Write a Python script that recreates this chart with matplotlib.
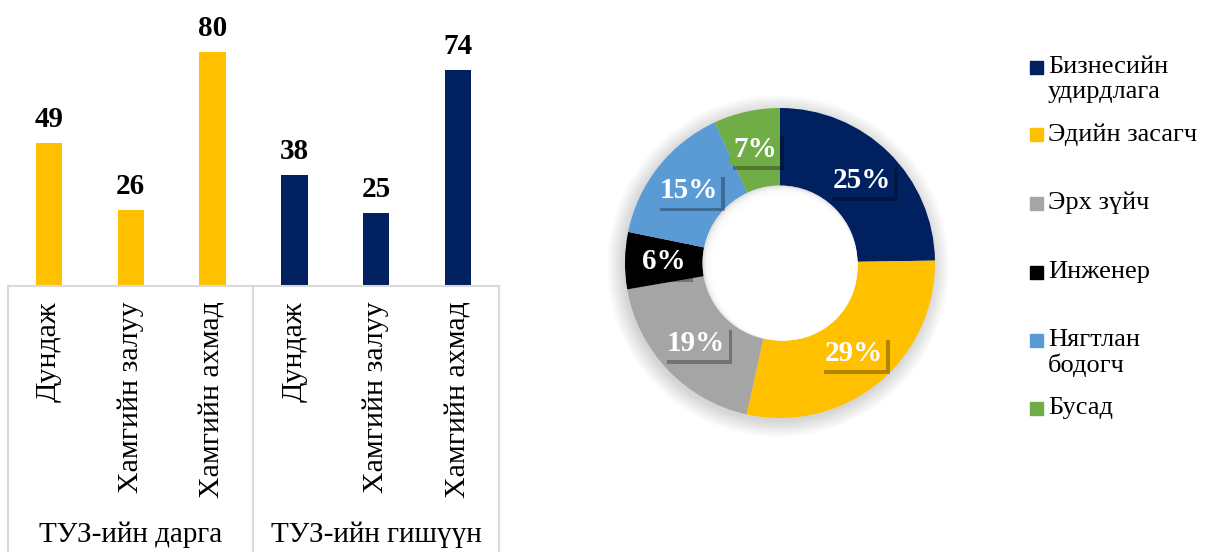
import matplotlib
matplotlib.use("Agg")
import matplotlib.pyplot as plt
import matplotlib.patheffects as pe
from matplotlib.patches import Rectangle, Circle
import numpy as np

plt.rcParams['font.family'] = ['Liberation Serif', 'DejaVu Serif']

# ---- data ----
bar_labels = ["Дундаж", "Хамгийн залуу", "Хамгийн ахмад",
              "Дундаж", "Хамгийн залуу", "Хамгийн ахмад"]
bar_values = [49, 26, 80, 38, 25, 74]
group_labels = ["ТУЗ-ийн дарга", "ТУЗ-ийн гишүүн"]
group_colors = ["#FFC000", "#002060"]

pie_labels = ["Бизнесийн\nудирдлага", "Эдийн засагч", "Эрх зүйч",
              "Инженер", "Нягтлан\nбодогч", "Бусад"]
pie_values = [25, 29, 19, 6, 15, 7]
pie_colors = ["#002060", "#FFC000", "#A5A5A5", "#000000", "#5B9BD5", "#70AD47"]

W, H = 1208, 552
fig = plt.figure(figsize=(W / 100, H / 100), dpi=100)

# ---- bar chart ----
base_y = 286
ax = fig.add_axes([8 / W, 1 - base_y / H, (499 - 8) / W, base_y / H])
x = np.arange(len(bar_values))
colors = [group_colors[0]] * 3 + [group_colors[1]] * 3
bars = ax.bar(x, bar_values, width=0.32, color=colors)
ax.set_xlim(-0.5, len(bar_values) - 0.5)
ax.set_ylim(0, base_y / 2.925)
for b, v in zip(bars, bar_values):
    ax.annotate(str(v), (b.get_x() + b.get_width() / 2, v), xytext=(0, 7),
                textcoords='offset points', ha='center', va='bottom',
                fontsize=21, fontweight='bold')
for s in ['top', 'left', 'right']:
    ax.spines[s].set_visible(False)
ax.spines['bottom'].set_color('#D9D9D9')
ax.spines['bottom'].set_linewidth(1.5)
ax.set_yticks([])
ax.set_xticks(x)
ax.set_xticklabels(bar_labels, rotation=90, fontsize=21.5, va='top', ha='center')
ax.tick_params(axis='x', length=0, pad=11)
bot = -(H - base_y) / base_y
for xb in [-0.5, 2.5, 5.5]:
    ax.plot([xb, xb], [0, bot], transform=ax.get_xaxis_transform(),
            color='#D9D9D9', lw=1.5, clip_on=False)
for gi, gl in enumerate(group_labels):
    ax.text(gi * 3 + 1, -(535 - base_y) / base_y, gl, transform=ax.get_xaxis_transform(),
            ha='center', va='center', fontsize=21)

# ---- donut ----
cx, cy, R = 780, 263, 155
half = 175
ax2 = fig.add_axes([(cx - half) / W, 1 - (cy + half) / H, 2 * half / W, 2 * half / H])
# soft shadow
for k in range(14):
    ax2.add_patch(Circle((-0.012, -0.02), 1.0 + k * 0.008, color='black',
                         alpha=0.012, lw=0, zorder=0))
wedges, _ = ax2.pie(pie_values, colors=pie_colors, startangle=90, counterclock=False,
                    radius=1, wedgeprops=dict(width=0.5, linewidth=0))
for k in range(6):
    ax2.add_patch(Circle((0.006 * k, -0.006 * k), 0.5 - k * 0.006, color='white' if k else '#f2f2f2',
                         alpha=1.0 if k == 5 else 0.5, lw=0, zorder=5))
lim = half / R
ax2.set_xlim(-lim, lim)
ax2.set_ylim(-lim, lim)
ax2.set_aspect('equal')
ax2.axis('off')
total = sum(pie_values)
start = 90.0
for v, c in zip(pie_values, pie_colors):
    span = v / total * 360
    mid = np.deg2rad(start - span / 2)
    start -= span
    px, py = 0.75 * np.cos(mid), 0.75 * np.sin(mid)
    t = ax2.text(px, py, f"{v}%", ha='center', va='center', fontsize=21,
                 fontweight='bold', color='white', zorder=7,
                 bbox=dict(boxstyle='square,pad=0.12', fc=c, ec='none'))
    t.get_bbox_patch().set_path_effects([
        pe.SimplePatchShadow(offset=(2.5, -2.5), shadow_rgbFace='black', alpha=0.3),
        pe.Normal()])

# ---- legend ----
leg_tops = [51, 118, 187, 256, 324, 392]
for lab, c, t in zip(pie_labels, pie_colors, leg_tops):
    fig.patches.append(Rectangle((1030 / W, 1 - (t + 23) / H), 13 / W, 13 / H,
                                 transform=fig.transFigure, color=c))
    fig.text(1048 / W, 1 - (t + 5) / H, lab, ha='left', va='top', fontsize=19,
             linespacing=1.15)

fig.savefig("out.png", dpi=100)
